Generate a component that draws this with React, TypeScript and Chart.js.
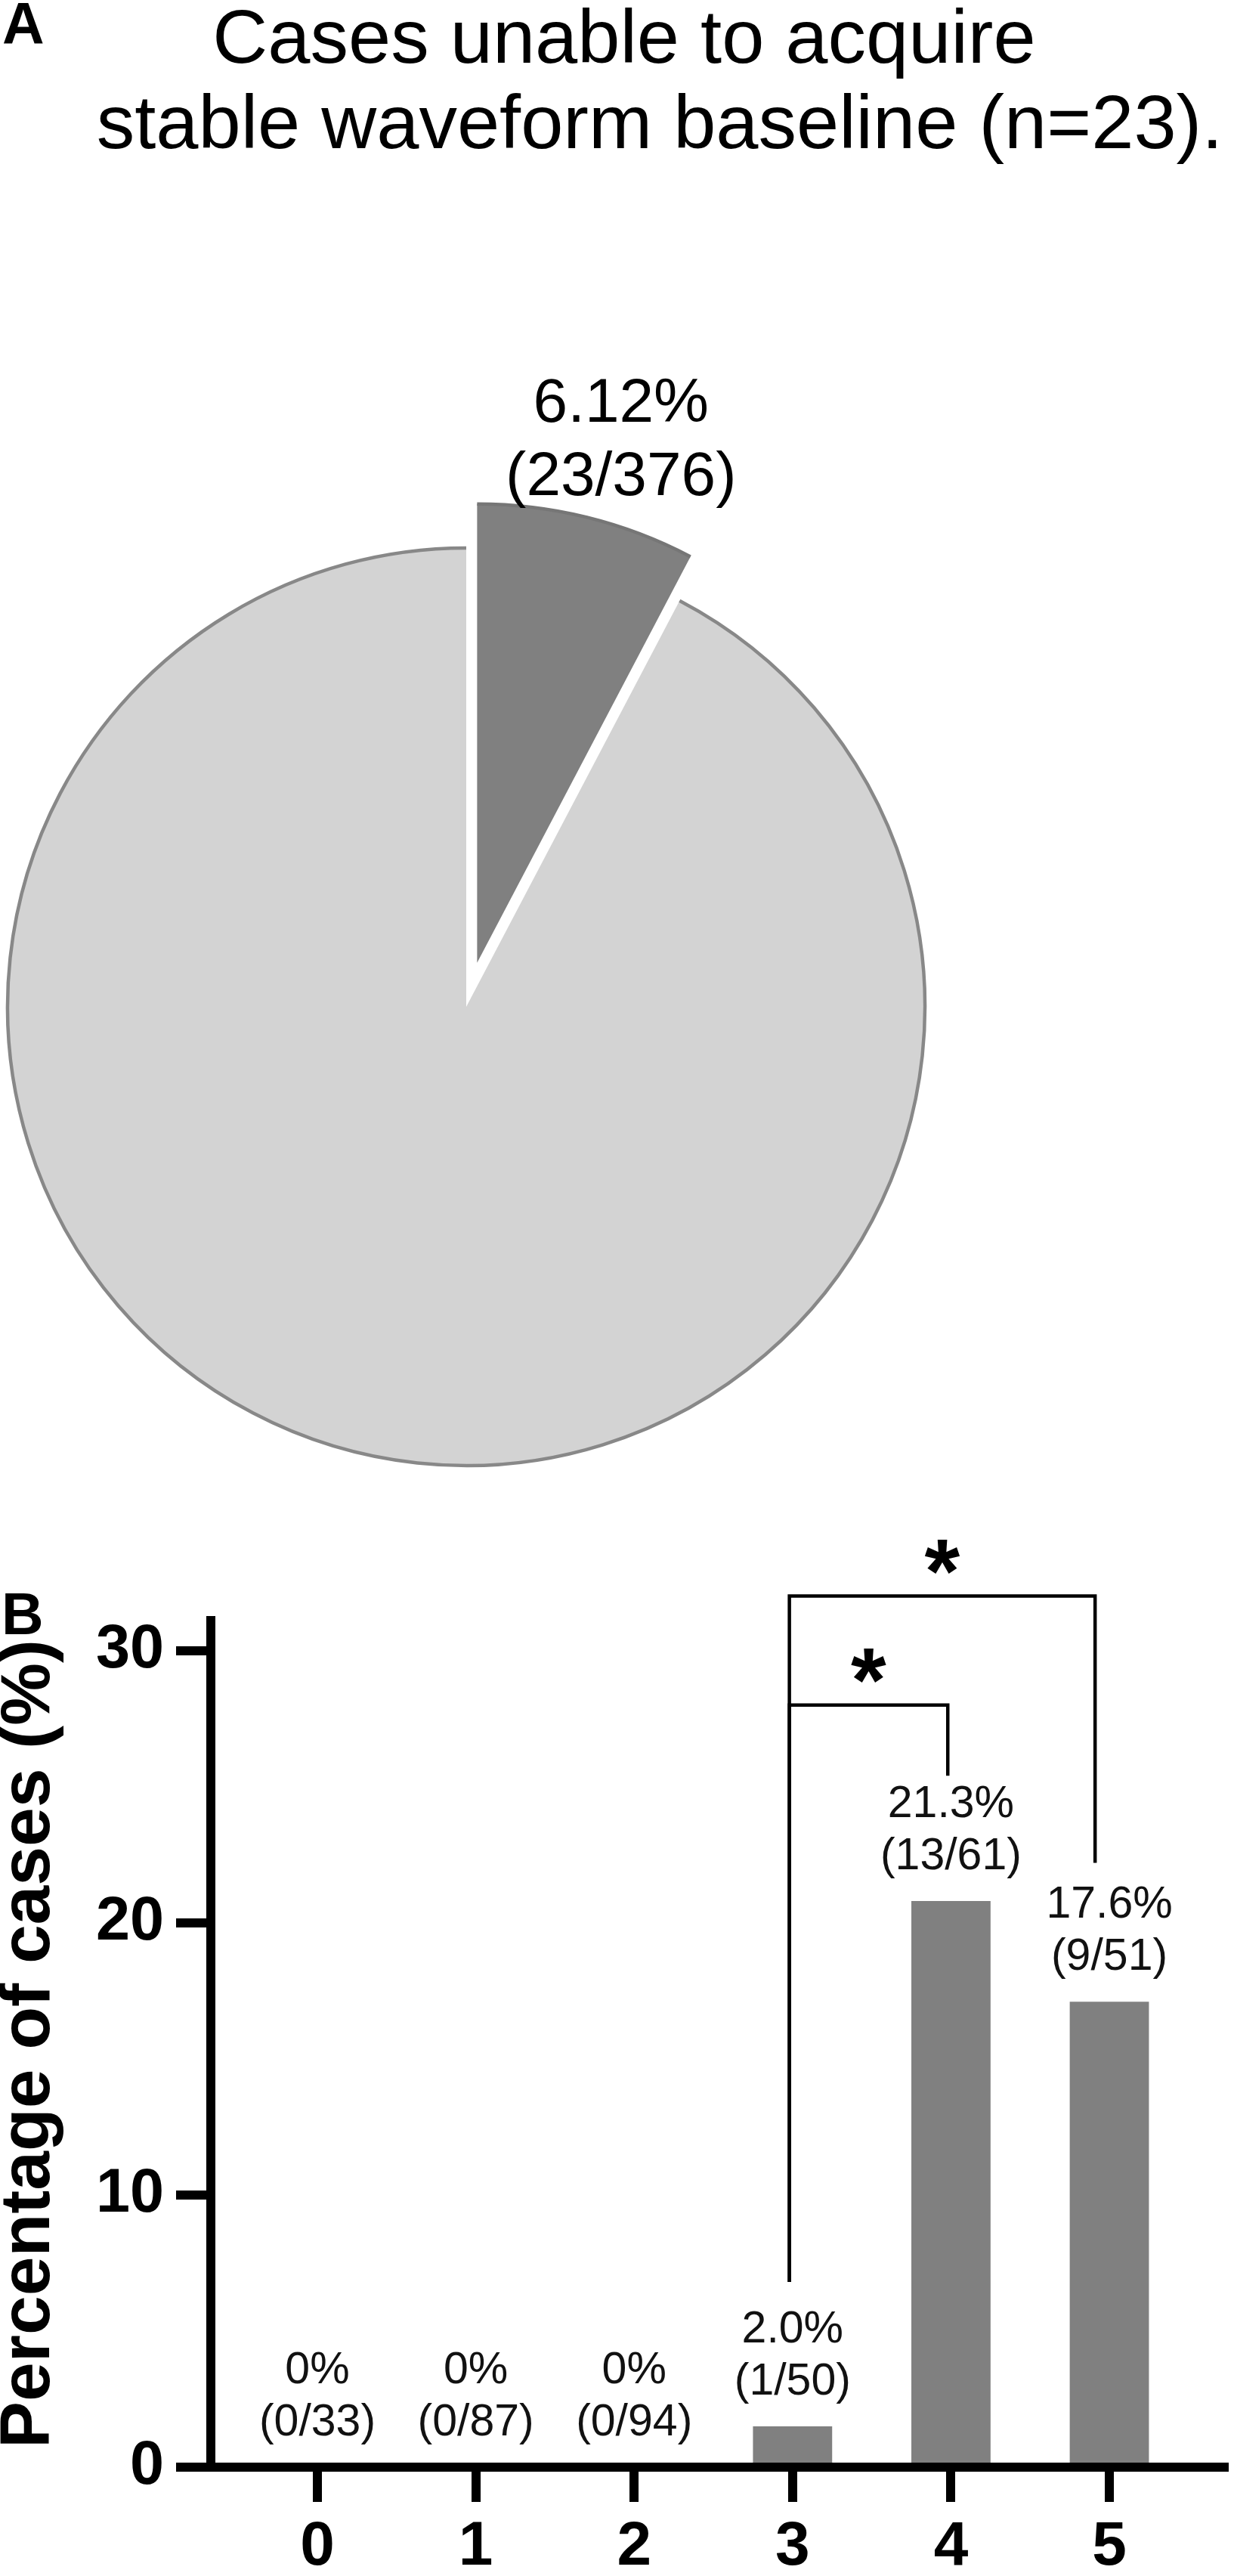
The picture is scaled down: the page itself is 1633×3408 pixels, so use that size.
import React, { useEffect, useRef } from 'react';
import { Chart, registerables } from 'chart.js';

Chart.register(...registerables);

const FONT = '"Liberation Sans", Arial, Helvetica, sans-serif';

// ---------- Panel A data ----------
const panelALetter = 'A';
const titleLines = ['Cases unable to acquire', 'stable waveform baseline (n=23).'];
const pieCategories = ['Unable to acquire stable baseline', 'Stable baseline acquired'];
const pieShares = [7.7, 92.3]; // slice sizes as drawn in the figure (%)
const pieLabelLines = ['6.12%', '(23/376)'];
const pieColors = ['#808080', '#d3d3d3'];

// ---------- Panel B data ----------
const panelBLetter = 'B';
const barCategories = [0, 1, 2, 3, 4, 5];
const barCategoryLabels = ['0', '1', '2', '3', '4', '5'];
const barValues = [0, 0, 0, 1.5, 20.8, 17.1];
const barPercentLabels = ['0%', '0%', '0%', '2.0%', '21.3%', '17.6%'];
const barCountLabels = ['(0/33)', '(0/87)', '(0/94)', '(1/50)', '(13/61)', '(9/51)'];
const yTickValues = [0, 10, 20, 30];
const yTitle = 'Percentage of cases (%)';
const bracketFrom = [2.98, 2.98];
const bracketTo = [3.98, 4.91];
const bracketLevel = [28, 32];
const bracketFromEnd = [6.8, 6.8];
const bracketToEnd = [25.4, 22.2];
const bracketMarks = ['*', '*'];

const explodePlugin: any = {
  id: 'pieExplode',
  beforeDatasetDraw(chart: any, args: any, opts: any) {
    const ctx = chart.ctx;
    const meta = args.meta;
    meta.data.forEach((arc: any, i: number) => {
      const d = (opts.distances && opts.distances[i]) || 0;
      const mid = (arc.startAngle + arc.endAngle) / 2;
      ctx.save();
      ctx.translate(Math.cos(mid) * d, Math.sin(mid) * d);
      arc.draw(ctx);
      const w = opts.outlineWidth || 3;
      ctx.beginPath();
      ctx.arc(arc.x, arc.y, arc.outerRadius, arc.startAngle, arc.endAngle);
      ctx.strokeStyle = opts.outlineColors[i];
      ctx.lineWidth = w;
      ctx.stroke();
      ctx.restore();
    });
    return false;
  },
};

const pieTextPlugin: any = {
  id: 'pieText',
  afterDraw(chart: any) {
    const ctx = chart.ctx;
    ctx.save();
    ctx.fillStyle = '#000';
    ctx.textBaseline = 'alphabetic';
    ctx.font = `bold 77px ${FONT}`;
    ctx.textAlign = 'left';
    ctx.fillText(panelALetter, 3, 58);
    ctx.font = `101px ${FONT}`;
    ctx.textAlign = 'center';
    ctx.fillText(titleLines[0], 826, 83);
    ctx.fillText(titleLines[1], 873, 196);
    const arc = chart.getDatasetMeta(0).data[0];
    const mid = (arc.startAngle + arc.endAngle) / 2;
    const r = arc.outerRadius + 60;
    const ax = arc.x + Math.cos(mid) * r;
    const ay = arc.y + Math.sin(mid) * r;
    ctx.font = `82px ${FONT}`;
    ctx.fillText(pieLabelLines[1], ax + 45, ay - 29);
    ctx.fillText(pieLabelLines[0], ax + 45, ay - 126);
    ctx.restore();
  },
};

const barTextPlugin: any = {
  id: 'barText',
  afterDraw(chart: any) {
    const ctx = chart.ctx;
    const meta = chart.getDatasetMeta(0);
    ctx.save();
    ctx.fillStyle = '#111';
    ctx.textAlign = 'center';
    ctx.textBaseline = 'alphabetic';
    ctx.font = `59px ${FONT}`;
    meta.data.forEach((bar: any, i: number) => {
      const top = bar.y;
      ctx.fillText(barCountLabels[i], bar.x, top - 42);
      ctx.fillText(barPercentLabels[i], bar.x, top - 42 - 69);
    });
    const xs = chart.scales.x;
    const ys = chart.scales.y;
    ctx.strokeStyle = '#000';
    ctx.fillStyle = '#000';
    ctx.lineWidth = 4.5;
    ctx.lineJoin = 'miter';
    bracketLevel.forEach((lvl, i) => {
      const x1 = xs.getPixelForValue(bracketFrom[i]);
      const x2 = xs.getPixelForValue(bracketTo[i]);
      const y = ys.getPixelForValue(lvl);
      ctx.beginPath();
      ctx.moveTo(x1, ys.getPixelForValue(bracketFromEnd[i]));
      ctx.lineTo(x1, y);
      ctx.lineTo(x2, y);
      ctx.lineTo(x2, ys.getPixelForValue(bracketToEnd[i]));
      ctx.stroke();
      ctx.font = `bold 120px ${FONT}`;
      ctx.fillText(bracketMarks[i], (x1 + x2) / 2, y + 8);
    });
    ctx.font = `bold 77px ${FONT}`;
    ctx.textAlign = 'left';
    ctx.fillText(panelBLetter, 2, 202);
    ctx.restore();
  },
};

export default function App() {
  const pieRef = useRef<HTMLCanvasElement | null>(null);
  const barRef = useRef<HTMLCanvasElement | null>(null);

  useEffect(() => {
    const pie = new Chart(pieRef.current as any, {
      type: 'pie',
      data: {
        labels: pieCategories,
        datasets: [
          {
            data: pieShares,
            backgroundColor: pieColors,
            borderWidth: 0,
          },
        ],
      },
      options: {
        responsive: false,
        animation: false,
        events: [],
        radius: 607,
        layout: { padding: { left: 0, right: 399, top: 704, bottom: 0 } },
        plugins: {
          legend: { display: false },
          tooltip: { enabled: false },
          title: { display: false },
          pieExplode: { distances: [60, 0], outlineColors: ['#767676', '#888888'], outlineWidth: 4.5 },
        },
      } as any,
      plugins: [explodePlugin, pieTextPlugin],
    });

    const bar = new Chart(barRef.current as any, {
      type: 'bar',
      data: {
        datasets: [
          {
            data: barCategories.map((c, i) => ({ x: c, y: barValues[i] })),
            backgroundColor: '#808080',
            borderWidth: 0,
            barPercentage: 0.5,
            categoryPercentage: 1,
          },
        ],
      },
      options: {
        responsive: false,
        animation: false,
        events: [],
        layout: { padding: { left: 0, right: 13, top: 184, bottom: 0 } },
        plugins: { legend: { display: false }, tooltip: { enabled: false } },
        scales: {
          x: {
            type: 'linear',
            min: -0.6727,
            max: 5.725,
            offset: false,
            afterBuildTicks: (s: any) => {
              s.ticks = barCategories.map((v) => ({ value: v }));
            },
            afterFit: (s: any) => {
              s.height = 144;
            },
            grid: {
              display: true,
              drawOnChartArea: false,
              drawTicks: true,
              tickLength: 46,
              lineWidth: 12,
              color: '#000',
              offset: false,
            },
            border: { display: true, width: 12, color: '#000' },
            ticks: {
              color: '#000',
              font: { family: FONT, size: 82, weight: 'bold' },
              padding: 11,
              maxRotation: 0,
              autoSkip: false,
              callback: (_v: any, i: number) => barCategoryLabels[i],
            },
          },
          y: {
            type: 'linear',
            min: 0,
            max: 31.1,
            afterBuildTicks: (s: any) => {
              s.ticks = yTickValues.map((v) => ({ value: v }));
            },
            afterFit: (s: any) => {
              s.width = 279;
            },
            grid: {
              display: true,
              drawOnChartArea: false,
              drawTicks: true,
              tickLength: 46,
              lineWidth: 12,
              color: '#000',
            },
            border: { display: true, width: 12, color: '#000' },
            ticks: {
              color: '#000',
              font: { family: FONT, size: 81, weight: 'bold' },
              padding: 16,
              autoSkip: false,
              callback: (v: any) => String(v),
            },
            title: {
              display: true,
              text: yTitle,
              color: '#000',
              font: { family: FONT, size: 93, weight: 'bold', lineHeight: 0.84 },
              padding: 0,
            },
          },
        },
      } as any,
      plugins: [barTextPlugin],
    });

    return () => {
      pie.destroy();
      bar.destroy();
    };
  }, []);

  return (
    <div style={{ position: 'absolute', left: 0, top: 0, width: 1633, height: 3408, background: '#fff', overflow: 'hidden' }}>
      <canvas
        ref={pieRef}
        width={1633}
        height={1960}
        style={{ position: 'absolute', left: 0, top: 0, width: 1633, height: 1960, display: 'block' }}
      />
      <canvas
        ref={barRef}
        width={1633}
        height={1448}
        style={{ position: 'absolute', left: 0, top: 1960, width: 1633, height: 1448, display: 'block' }}
      />
    </div>
  );
}
